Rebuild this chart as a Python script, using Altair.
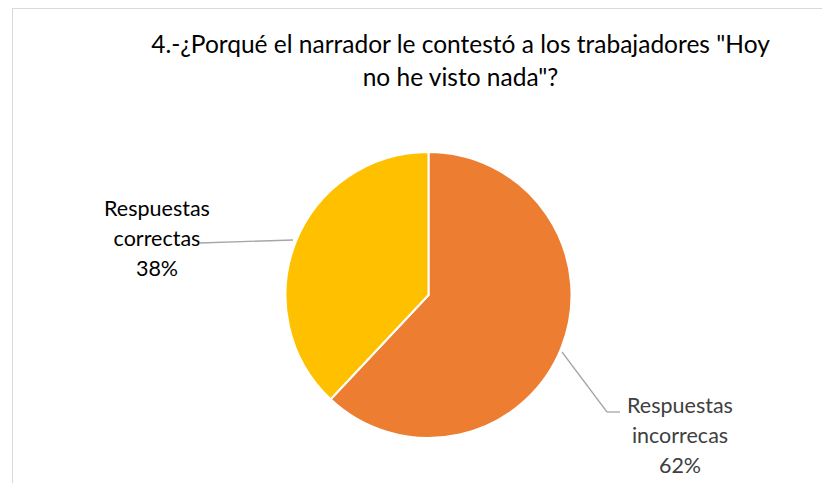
import altair as alt
import pandas as pd

categories = ["Respuestas incorrecas", "Respuestas correctas"]
values = [62, 38]
colors = ["#ED7D31", "#FFC000"]
title_lines = ['4.-¿Porqué el narrador le contestó a los trabajadores "Hoy', 'no he visto nada"?']

df = pd.DataFrame({"cat": categories, "val": values, "order": [0, 1]})

CX, CY, R = 420.5, 287, 143
FONT = "Lato"

pie = alt.Chart(df).mark_arc(radius=R, stroke="white", strokeWidth=2).encode(
    theta=alt.Theta("val:Q", stack=True),
    order=alt.Order("order:Q"),
    color=alt.Color("cat:N", scale=alt.Scale(domain=categories, range=colors), legend=None),
    x=alt.value(CX), y=alt.value(CY),
)

# title
t_df = pd.DataFrame({"t": title_lines, "i": [0, 1]})
title1 = alt.Chart(t_df[t_df.i == 0]).mark_text(font=FONT, fontSize=24.5, color="#000000").encode(
    text="t:N", x=alt.value(452.5), y=alt.value(38))
title2 = alt.Chart(t_df[t_df.i == 1]).mark_text(font=FONT, fontSize=24.5, color="#000000").encode(
    text="t:N", x=alt.value(452.5), y=alt.value(71))

def label(i, x, y, color):
    words = categories[i].split(" ")
    lines = [words[0], words[1], f"{values[i]}%"]
    ldf = pd.DataFrame({"l": lines, "k": [0, 1, 2]})
    layers = []
    for k, ln in enumerate(lines):
        layers.append(alt.Chart(ldf[ldf.k == k]).mark_text(font=FONT, fontSize=21.5, color=color).encode(
            text="l:N", x=alt.value(x), y=alt.value(y + 30 * k)))
    return layers

lab_c = label(1, 149, 202, "#000000")
lab_i = label(0, 672, 399, "#404040")

one = pd.DataFrame({"a": [0]})
lead_c = alt.Chart(one).mark_rule(color="#A6A6A6", strokeWidth=1.3).encode(
    x=alt.value(192), x2=alt.value(285), y=alt.value(235), y2=alt.value(232))
lead_i1 = alt.Chart(one).mark_rule(color="#A6A6A6", strokeWidth=1.3).encode(
    x=alt.value(554), x2=alt.value(599), y=alt.value(344), y2=alt.value(404))
lead_i2 = alt.Chart(one).mark_rule(color="#A6A6A6", strokeWidth=1.3).encode(
    x=alt.value(599), x2=alt.value(612), y=alt.value(404), y2=alt.value(404))

border_t = alt.Chart(one).mark_rule(color="#D9D9D9", strokeWidth=1).encode(
    x=alt.value(4), x2=alt.value(814), y=alt.value(0.5), y2=alt.value(0.5))
border_l = alt.Chart(one).mark_rule(color="#D9D9D9", strokeWidth=1).encode(
    x=alt.value(4.5), x2=alt.value(4.5), y=alt.value(0), y2=alt.value(475))

chart = alt.layer(border_t, border_l, pie, title1, title2, lead_c, lead_i1, lead_i2,
                  *lab_c, *lab_i).properties(
    width=814, height=475, autosize=alt.AutoSizeParams(type="none"), padding=0
).configure_view(stroke=None)

chart.save("out.html", embed_options={"renderer": "svg", "actions": False})
